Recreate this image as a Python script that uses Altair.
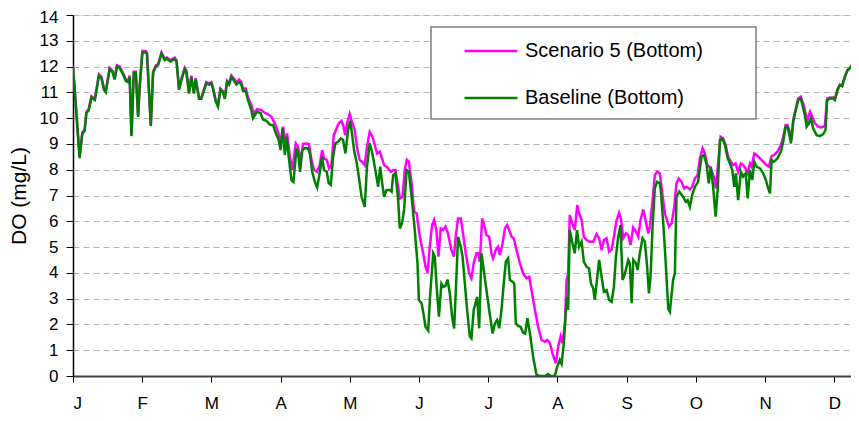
import json
import altair as alt
import pandas as pd

MONTHS = ["J", "F", "M", "A", "M", "J", "J", "A", "S", "O", "N", "D"]
SERIES = ["Scenario 5 (Bottom)", "Baseline (Bottom)"]
COLORS = ["#FF00FF", "#008000"]
Y_TICKS = list(range(0, 15))
MONTH_LEN = 365 / 12
X_END = 341.9

# (day of year, DO mg/L)
baseline_points = [
    (0, 12.0), (2.9, 8.45), (4.1, 9.4), (5.1, 9.5), (5.9, 10.2), (6.9, 10.3), (8.1, 10.8), (9.6, 10.7),
    (11.4, 11.65), (12.5, 11.55), (13.6, 11.1), (14.4, 11.0), (16.1, 11.9), (17.3, 11.8), (18.3, 11.5),
    (19.3, 12.0), (20.5, 11.95), (22.0, 11.7), (23.2, 11.45), (24.2, 11.4), (24.9, 11.6), (25.7, 9.3),
    (26.7, 11.75), (27.6, 11.75), (28.6, 10.05), (29.3, 11.2), (30.5, 12.55), (32.0, 12.55), (32.5, 12.5),
    (34.2, 9.7), (35.2, 11.75), (36.4, 12.0), (37.4, 12.05), (38.9, 12.5), (40.3, 12.25), (41.3, 12.3),
    (42.8, 12.2), (44.7, 12.3), (45.5, 12.2), (46.6, 11.1), (47.7, 11.5), (49.1, 11.9), (49.8, 11.8),
    (51.0, 10.95), (52.0, 11.6), (53.1, 10.95), (53.9, 11.5), (55.4, 10.75), (56.4, 10.75), (58.6, 11.35),
    (59.8, 11.3), (60.8, 11.35), (61.5, 11.15), (62.7, 10.65), (63.7, 10.45), (64.8, 11.1), (65.9, 11.0),
    (66.7, 10.75), (67.7, 11.4), (68.6, 11.3), (69.6, 11.6), (71.1, 11.4), (71.8, 11.3), (73.0, 11.4),
    (74.0, 11.3), (74.7, 11.05), (75.9, 11.05), (76.9, 10.7), (78.4, 10.3), (79.1, 10.0), (80.9, 10.25),
    (82.4, 10.2), (83.5, 9.95), (85.0, 9.9), (86.5, 9.75), (87.2, 9.73), (87.9, 9.73), (89.4, 9.35),
    (90.4, 9.15), (91.2, 8.76), (92.1, 9.6), (93.1, 8.57), (93.9, 9.28), (94.8, 8.5), (96.0, 7.6),
    (96.9, 7.53), (98.2, 8.83), (98.9, 8.63), (99.8, 7.92), (100.7, 8.76), (101.9, 8.83), (103.3, 8.83),
    (104.1, 8.63), (105.1, 7.92), (106.3, 7.53), (107.3, 7.31), (108.4, 7.86), (109.5, 8.5), (110.3, 7.99),
    (111.5, 7.92), (112.4, 7.47), (113.3, 7.41), (114.3, 8.5), (115.3, 9.02), (116.5, 9.08), (117.7, 9.21),
    (118.7, 9.15), (119.7, 8.63), (120.9, 9.54), (121.8, 9.9), (122.6, 9.41), (123.5, 8.76), (124.6, 8.31),
    (125.6, 7.73), (126.8, 6.95), (128.2, 6.56), (129.2, 8.12), (130.4, 9.02), (131.4, 8.7), (132.6, 8.12),
    (134.1, 7.34), (135.0, 8.12), (135.8, 7.53), (136.7, 6.95), (137.8, 7.21), (139.2, 7.21), (140.0, 7.15),
    (140.7, 7.79), (141.7, 7.86), (142.9, 6.82), (143.6, 5.72), (144.6, 5.92), (145.5, 6.44), (146.6, 7.99),
    (147.6, 7.92), (148.8, 6.95), (150.2, 5.66), (151.4, 4.36), (152.0, 2.95), (153.2, 2.82), (154.0, 2.43),
    (154.9, 1.91), (156.1, 1.76), (156.9, 3.07), (158.3, 4.76), (159.0, 4.63), (159.7, 3.59), (160.8, 2.3),
    (161.9, 3.59), (162.8, 3.46), (163.7, 3.5), (164.6, 3.74), (165.6, 3.2), (166.6, 2.3), (167.5, 1.84),
    (168.5, 3.85), (169.2, 5.4), (170.4, 5.01), (171.2, 4.63), (172.2, 3.59), (173.2, 2.56), (174.4, 1.53),
    (175.1, 1.46), (176.1, 2.56), (177.6, 3.07), (178.5, 1.85), (179.5, 4.76), (180.5, 4.11), (181.7, 3.33),
    (182.9, 2.56), (184.4, 1.65), (185.4, 2.04), (186.4, 2.17), (187.3, 1.85), (188.3, 2.56), (189.3, 3.59),
    (190.2, 4.43), (191.2, 4.56), (192.0, 3.72), (193.2, 3.66), (193.9, 3.59), (194.6, 2.04), (195.6, 1.94),
    (196.7, 1.91), (197.8, 1.68), (198.7, 1.65), (199.7, 2.24), (200.8, 1.65), (202.2, 0.75), (203.7, 0.04),
    (205.2, 0.0), (207.4, 0.0), (208.8, 0.08), (209.9, 0.0), (211.7, 0.0), (212.8, 0.36), (213.9, 0.62),
    (214.7, 0.47), (215.7, 1.27), (216.6, 2.56), (217.2, 3.07), (217.6, 2.56), (218.3, 5.66), (219.5, 5.15),
    (220.5, 4.76), (221.5, 5.66), (222.4, 5.01), (223.5, 5.21), (224.5, 4.43), (225.7, 4.24), (226.8, 4.17),
    (227.6, 3.59), (228.6, 3.4), (229.3, 2.95), (230.1, 3.59), (231.2, 4.5), (232.3, 3.85), (233.3, 3.27),
    (234.5, 3.33), (235.6, 2.95), (236.7, 2.88), (237.7, 3.46), (238.6, 4.63), (239.6, 5.4), (240.6, 5.85),
    (241.5, 3.72), (242.4, 3.92), (243.3, 4.24), (244.0, 4.5), (244.7, 4.37), (245.5, 2.82), (246.2, 4.5),
    (247.4, 4.37), (248.1, 4.11), (249.1, 4.76), (250.3, 5.34), (251.3, 5.21), (252.3, 4.24), (253.1, 3.2),
    (253.8, 3.85), (254.7, 5.79), (255.7, 7.3), (256.7, 7.53), (257.9, 7.47), (258.3, 7.21), (259.4, 5.92),
    (260.4, 4.5), (261.6, 2.6), (262.3, 2.49), (263.7, 3.72), (264.5, 3.98), (265.2, 6.95), (266.4, 7.15),
    (268.1, 6.95), (269.2, 6.76), (270.1, 6.82), (271.1, 6.56), (272.1, 7.02), (273.3, 7.34), (274.7, 7.53),
    (276.2, 8.5), (277.2, 8.57), (278.4, 8.24), (279.4, 7.47), (280.3, 8.12), (281.3, 7.34), (282.4, 6.18),
    (283.3, 7.21), (284.3, 9.15), (285.5, 9.21), (286.5, 8.96), (287.7, 8.44), (288.7, 8.24), (289.7, 7.99),
    (290.6, 7.34), (291.3, 7.86), (292.3, 6.82), (293.5, 7.92), (294.5, 7.73), (295.6, 7.86), (296.5, 6.89),
    (297.5, 7.99), (298.5, 7.6), (299.4, 8.31), (300.4, 8.12), (301.9, 8.05), (303.3, 7.86), (304.5, 7.6),
    (305.5, 7.28), (306.3, 7.08), (307.0, 8.38), (308.1, 8.31), (309.6, 8.44), (311.1, 8.7), (312.1, 9.08),
    (313.2, 9.67), (314.0, 9.67), (314.7, 9.41), (315.5, 9.02), (316.5, 9.86), (317.6, 10.31), (318.7, 10.7),
    (319.8, 10.76), (320.6, 10.5), (321.6, 10.12), (322.4, 9.67), (323.4, 9.8), (324.3, 9.99), (325.3, 9.6),
    (326.8, 9.34), (328.2, 9.3), (329.7, 9.38), (330.7, 9.54), (331.4, 10.7), (332.6, 10.76), (334.1, 10.76),
    (334.8, 10.7), (336.0, 11.09), (337.0, 11.28), (338.0, 11.24), (339.2, 11.6), (340.4, 11.86),
    (341.4, 11.93), (342.4, 12.06), (343.6, 12.38), (345.4, 12.64),
]

scenario5_points = [
    (0, 12.0), (2.9, 8.5), (4.1, 9.45), (5.1, 9.55), (5.9, 10.25), (6.9, 10.35), (8.1, 10.85), (9.6, 10.75),
    (11.4, 11.7), (12.5, 11.6), (13.6, 11.15), (14.4, 11.05), (16.1, 11.95), (17.3, 11.85), (18.3, 11.55),
    (19.3, 12.05), (20.5, 12.0), (22.0, 11.75), (23.2, 11.5), (24.2, 11.45), (24.9, 11.65), (25.7, 9.35),
    (26.7, 11.8), (27.6, 11.8), (28.6, 10.1), (29.3, 11.25), (30.5, 12.6), (32.0, 12.6), (32.5, 12.55),
    (34.2, 9.75), (35.2, 11.8), (36.4, 12.05), (37.4, 12.1), (38.9, 12.55), (40.3, 12.3), (41.3, 12.35),
    (42.8, 12.25), (44.7, 12.35), (45.5, 12.25), (46.6, 11.15), (47.7, 11.55), (49.1, 11.95), (49.8, 11.85),
    (51.0, 11.0), (52.0, 11.65), (53.1, 11.0), (53.9, 11.55), (55.4, 10.8), (56.4, 10.8), (58.6, 11.4),
    (59.8, 11.35), (60.8, 11.4), (61.5, 11.2), (62.7, 10.7), (63.7, 10.5), (64.8, 11.15), (65.9, 11.05),
    (66.7, 10.8), (67.7, 11.45), (68.6, 11.35), (69.6, 11.65), (71.1, 11.5), (71.8, 11.4), (73.0, 11.5),
    (74.0, 11.4), (74.7, 11.15), (75.9, 11.15), (76.9, 10.8), (78.4, 10.5), (79.4, 10.18), (80.9, 10.35),
    (82.8, 10.31), (84.3, 10.2), (85.7, 10.15), (87.2, 10.05), (88.7, 9.8), (90.1, 9.47), (91.2, 9.02),
    (92.3, 9.67), (93.4, 8.96), (94.1, 9.41), (95.3, 8.5), (96.4, 7.99), (97.9, 9.02), (98.9, 8.89),
    (100.0, 8.24), (101.1, 9.0), (102.6, 9.02), (103.7, 9.0), (104.8, 8.38), (105.9, 7.99), (107.3, 7.92),
    (108.4, 8.18), (109.5, 8.76), (110.3, 8.44), (111.5, 8.38), (112.5, 8.05), (113.6, 8.18), (114.6, 9.34),
    (115.8, 9.6), (116.8, 9.8), (118.0, 9.89), (118.9, 9.67), (119.6, 9.34), (120.6, 9.86), (121.6, 10.16),
    (122.6, 9.86), (123.8, 9.54), (125.0, 8.76), (126.0, 8.38), (127.0, 8.31), (128.2, 8.18), (129.2, 8.89),
    (130.4, 9.47), (131.6, 9.28), (132.6, 8.96), (133.6, 8.63), (134.8, 8.7), (135.8, 8.44), (136.7, 8.18),
    (138.2, 8.09), (139.7, 7.92), (140.7, 7.99), (141.7, 7.99), (142.9, 7.34), (143.7, 6.89), (144.8, 6.95),
    (145.8, 7.99), (146.7, 8.38), (147.6, 8.31), (148.8, 7.47), (149.9, 6.37), (151.0, 6.31), (152.4, 5.4),
    (153.9, 4.76), (154.9, 4.24), (155.8, 4.0), (156.8, 5.01), (157.8, 5.85), (158.7, 6.05), (159.7, 5.66),
    (160.6, 4.63), (161.6, 5.72), (162.6, 5.66), (163.7, 5.79), (164.8, 5.53), (166.3, 4.89), (167.4, 4.63),
    (168.2, 5.4), (169.2, 6.11), (170.4, 6.11), (171.2, 5.66), (172.6, 4.76), (174.1, 3.98), (175.1, 3.79),
    (176.1, 4.37), (177.3, 4.76), (178.0, 4.76), (178.8, 4.43), (179.8, 6.11), (180.5, 5.92), (181.7, 5.47),
    (182.9, 5.4), (183.9, 4.76), (184.6, 4.56), (185.8, 4.89), (186.8, 5.01), (187.6, 4.69), (188.8, 5.15),
    (189.8, 5.72), (190.8, 5.85), (191.7, 5.66), (192.7, 5.4), (193.7, 5.34), (194.9, 4.89), (196.4, 4.37),
    (197.8, 3.98), (199.3, 3.79), (200.5, 3.85), (201.5, 3.33), (203.0, 2.56), (204.4, 1.91), (205.9, 1.4),
    (207.4, 1.33), (208.4, 1.4), (209.6, 1.27), (210.7, 0.88), (212.2, 0.49), (213.2, 1.14), (214.3, 1.53),
    (215.1, 1.27), (216.2, 2.04), (216.9, 3.72), (217.6, 3.98), (218.3, 6.24), (219.4, 5.92), (220.5, 5.66),
    (221.6, 6.63), (222.4, 6.31), (223.5, 6.05), (224.5, 5.4), (225.7, 5.27), (227.1, 5.21), (228.6, 5.21),
    (230.1, 5.5), (231.2, 5.34), (232.3, 4.89), (233.3, 5.27), (234.5, 5.34), (235.6, 4.82), (236.7, 4.89),
    (237.7, 5.4), (238.9, 6.05), (240.0, 6.33), (240.8, 6.1), (241.8, 5.34), (243.0, 5.53), (244.0, 5.47),
    (245.0, 5.08), (246.2, 5.76), (247.4, 5.6), (248.4, 5.4), (249.4, 6.05), (250.6, 6.46), (251.6, 6.05),
    (252.8, 5.53), (253.5, 5.79), (254.7, 6.82), (255.7, 7.8), (256.7, 7.92), (257.9, 7.85), (258.6, 7.34),
    (260.1, 6.31), (261.9, 5.79), (263.1, 5.92), (264.2, 6.56), (265.2, 7.47), (266.2, 7.66), (267.4, 7.53),
    (268.6, 7.28), (269.6, 7.34), (271.1, 7.24), (272.1, 7.34), (273.3, 7.66), (274.5, 7.79), (275.5, 8.44),
    (276.7, 8.83), (277.7, 8.63), (278.7, 8.18), (279.6, 8.12), (280.6, 7.99), (281.8, 7.66), (282.5, 7.28),
    (283.5, 8.24), (284.6, 9.28), (285.7, 9.21), (286.8, 8.96), (287.9, 8.5), (289.1, 8.31), (290.1, 8.18),
    (291.2, 8.24), (292.3, 7.92), (293.5, 8.24), (294.5, 8.18), (295.6, 8.05), (296.5, 7.86), (297.5, 8.24),
    (298.2, 8.12), (299.4, 8.63), (300.4, 8.57), (301.9, 8.44), (303.3, 8.31), (304.8, 8.18), (305.8, 8.12),
    (307.0, 8.53), (308.1, 8.57), (309.6, 8.7), (311.1, 8.96), (312.1, 9.28), (313.2, 9.73), (314.0, 9.73),
    (315.0, 9.47), (315.8, 9.15), (316.5, 9.93), (317.6, 10.34), (318.7, 10.76), (319.8, 10.83),
    (320.9, 10.57), (321.9, 10.18), (322.8, 9.93), (323.9, 10.25), (324.9, 10.05), (326.0, 9.8),
    (327.5, 9.67), (329.0, 9.64), (330.4, 9.7), (331.4, 10.76), (332.6, 10.8), (334.1, 10.8), (334.8, 10.75),
    (336.0, 11.12), (337.0, 11.3), (338.0, 11.27), (339.2, 11.62), (340.4, 11.88), (341.4, 11.95),
    (342.4, 12.08), (343.6, 12.4), (345.4, 12.66),
]

rows = []
for name, pts in zip(SERIES, [scenario5_points, baseline_points]):
    for d, v in pts:
        rows.append({"day": d, "do": v, "series": name})
df = pd.DataFrame(rows)

FONT = "Liberation Sans"
month_expr = json.dumps(MONTHS) + "[round(datum.value / " + repr(MONTH_LEN) + ")]"

x_enc = alt.X(
    "day:Q",
    scale=alt.Scale(domain=[0, X_END], nice=False, zero=False),
    axis=alt.Axis(
        values=[i * MONTH_LEN for i in range(12)],
        labelExpr=month_expr,
        title=None,
        grid=False,
        domainColor="#404040",
        domainWidth=2,
        tickColor="#000000",
        tickSize=6,
        labelPadding=13,
        labelFontSize=17,
        labelFont=FONT,
        labelColor="#000000",
    ),
)
y_enc = alt.Y(
    "do:Q",
    scale=alt.Scale(domain=[0, 14], nice=False),
    axis=alt.Axis(
        values=Y_TICKS,
        title="DO (mg/L)",
        titleFont=FONT,
        titleFontSize=21,
        titleFontWeight="normal",
        titleColor="#000000",
        titleX=-54,
        titleY=180.5,
        titleAngle=-90,
        titleAlign="center",
        titleBaseline="middle",
        grid=True,
        gridDash=[6, 4],
        gridColor="#b4b4b4",
        gridWidth=1,
        domainColor="#000000",
        domainWidth=1.5,
        tickColor="#000000",
        tickSize=7,
        labelPadding=8,
        labelOffset={"condition": {"test": "datum.value == 14", "value": 2}, "value": 0},
        labelFontSize=17,
        labelFont=FONT,
        labelColor="#000000",
    ),
)
color_enc = alt.Color(
    "series:N",
    scale=alt.Scale(domain=SERIES, range=COLORS),
    legend=alt.Legend(
        title=None,
        orient="none",
        legendX=390,
        legendY=8,
        symbolType="stroke",
        symbolSize=2809,
        symbolStrokeWidth=2.5,
        labelFontSize=20,
        labelFont=FONT,
        labelColor="#000000",
        labelOffset=6,
        rowPadding=9,
        padding=0,
        labelLimit=400,
    ),
)

base = alt.Chart(df)
scen_line = base.transform_filter(alt.datum.series == SERIES[0]).mark_line(
    strokeWidth=2.5, clip=True
).encode(x=x_enc, y=y_enc, color=color_enc)
base_line = base.transform_filter(alt.datum.series == SERIES[1]).mark_line(
    strokeWidth=2.5, clip=True
).encode(x=x_enc, y=y_enc, color=color_enc)

legend_box = alt.Chart(alt.Data(values=[{}])).mark_rect(
    fill="white", stroke="#808080", strokeWidth=1.5
).encode(x=alt.value(358), x2=alt.value(683), y=alt.value(12), y2=alt.value(104))

chart = alt.layer(scen_line, base_line, legend_box).properties(
    width=778,
    height=361,
    autosize=alt.AutoSizeParams(type="none"),
    padding={"left": 65, "top": 7, "right": 0, "bottom": 37},
).configure_view(stroke="#808080", strokeWidth=2).configure(background="white")

chart.save("out.html", embed_options={"renderer": "svg", "actions": False})
